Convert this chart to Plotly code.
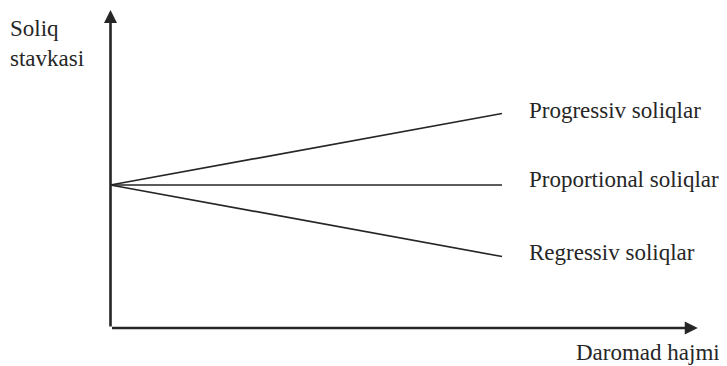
import plotly.graph_objects as go

# income level (x) and tax rate (y) for each kind of tax
income = [0.0, 1.0]
progressive = [0.5, 0.75]
proportional = [0.5, 0.5]
regressive = [0.5, 0.25]

series_names = ["Progressiv soliqlar", "Proportional soliqlar", "Regressiv soliqlar"]
label_y = [0.762, 0.519, 0.264]
y_title = "Soliq<br>stavkasi"
x_title = "Daromad hajmi"

INK = "#262626"
FONT = "Liberation Serif"
SIZE = 23

fig = go.Figure()
for ys in (progressive, proportional, regressive):
    fig.add_trace(
        go.Scatter(
            x=income,
            y=ys,
            mode="lines",
            line=dict(color=INK, width=1.7),
            hoverinfo="skip",
            showlegend=False,
        )
    )

# axes with arrowheads
axis_arrow = dict(
    xref="x", yref="y", axref="x", ayref="y",
    showarrow=True, arrowhead=2, arrowsize=1.0, arrowwidth=2.6,
    arrowcolor=INK, text="",
)
fig.add_annotation(x=0, y=1.112, ax=0, ay=0, **axis_arrow)
fig.add_annotation(x=1.5, y=0, ax=0, ay=0, **axis_arrow)

for name, y in zip(series_names, label_y):
    fig.add_annotation(
        x=1.064, y=y, text=name, showarrow=False,
        xanchor="left", yanchor="middle",
        font=dict(family=FONT, size=SIZE, color=INK),
    )

fig.add_annotation(
    x=0.0, y=0.983, xref="paper", yref="paper", text=y_title,
    showarrow=False, xanchor="left", yanchor="top", align="left",
    font=dict(family=FONT, size=SIZE, color=INK),
)
fig.add_annotation(
    x=0.993, y=0.038, xref="paper", yref="paper", text=x_title,
    showarrow=False, xanchor="right", yanchor="middle",
    font=dict(family=FONT, size=SIZE, color=INK),
)

# page body has an 8px margin, so the figure is sized to fit the window
fig.update_layout(
    width=719,
    height=358,
    margin=dict(t=0, b=0, l=0, r=0),
    paper_bgcolor="white",
    plot_bgcolor="white",
)
fig.update_xaxes(range=[-0.2618, 1.5747], visible=False, fixedrange=True)
fig.update_yaxes(range=[-0.1329, 1.1189], visible=False, fixedrange=True)

fig.write_html("out.html")
